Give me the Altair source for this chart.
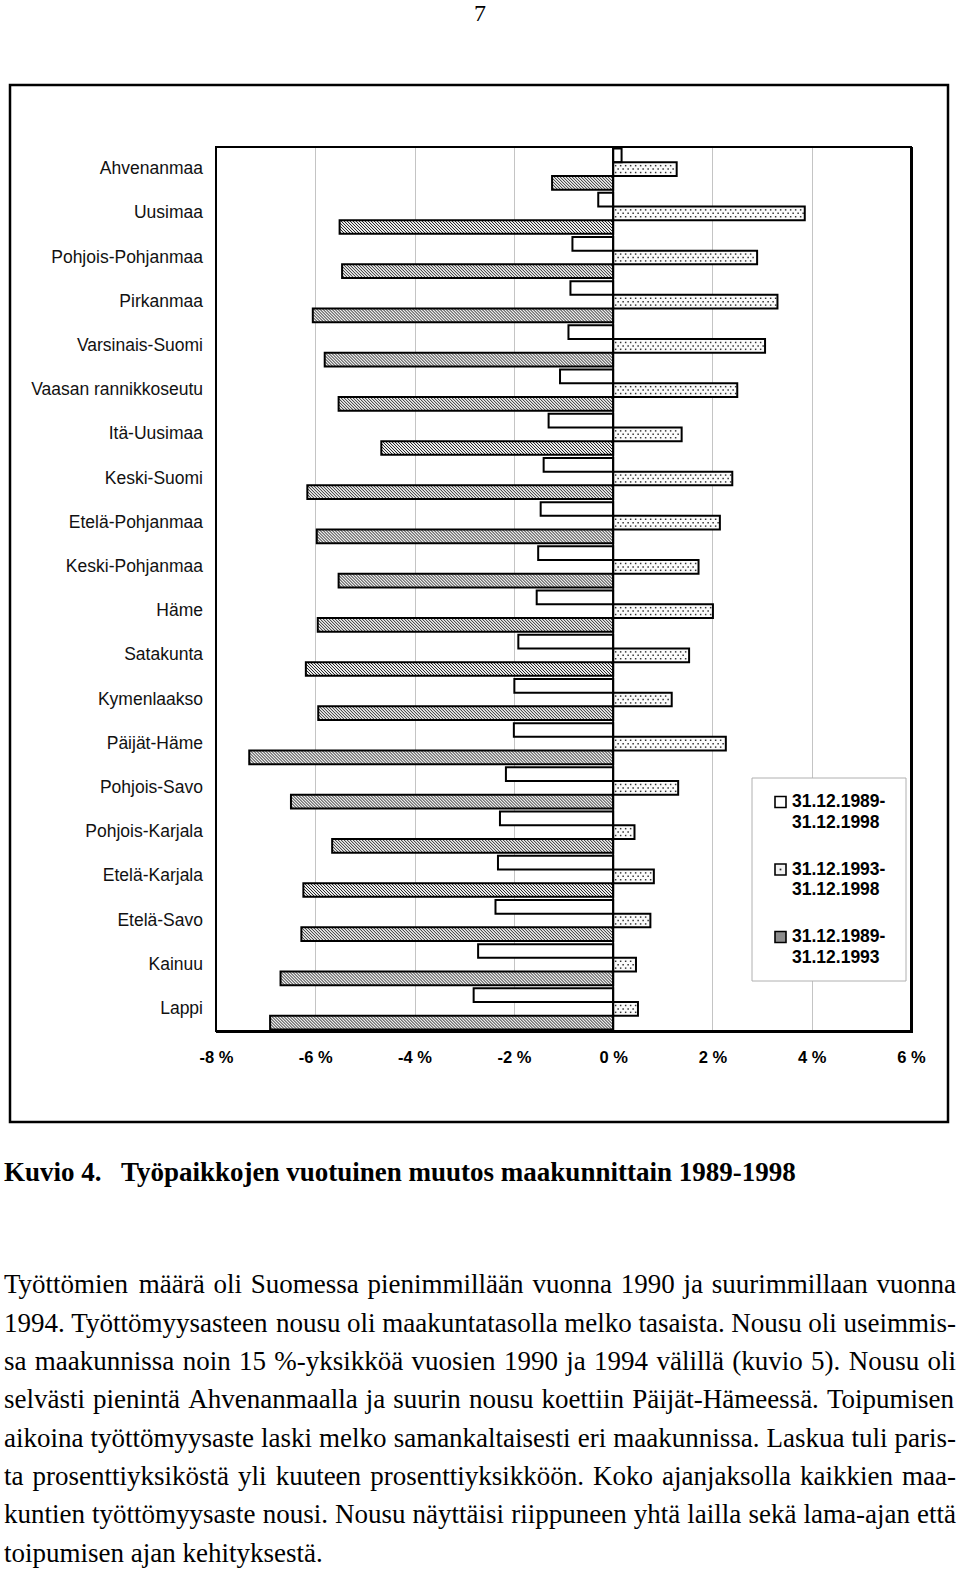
import altair as alt
import pandas as pd
import numpy as np

# ---------------- data ----------------
regions = [
    "Ahvenanmaa", "Uusimaa", "Pohjois-Pohjanmaa", "Pirkanmaa", "Varsinais-Suomi",
    "Vaasan rannikkoseutu", "Itä-Uusimaa", "Keski-Suomi", "Etelä-Pohjanmaa",
    "Keski-Pohjanmaa", "Häme", "Satakunta", "Kymenlaakso", "Päijät-Häme",
    "Pohjois-Savo", "Pohjois-Karjala", "Etelä-Karjala", "Etelä-Savo", "Kainuu", "Lappi",
]
change_1989_1998 = [0.17, -0.30, -0.82, -0.86, -0.90, -1.07, -1.30, -1.40, -1.46, -1.51,
                    -1.54, -1.91, -1.99, -2.00, -2.16, -2.28, -2.32, -2.37, -2.72, -2.81]
change_1993_1998 = [1.28, 3.86, 2.90, 3.31, 3.06, 2.50, 1.38, 2.40, 2.15, 1.72,
                    2.01, 1.53, 1.18, 2.27, 1.31, 0.43, 0.82, 0.75, 0.46, 0.50]
change_1989_1993 = [-1.23, -5.51, -5.46, -6.05, -5.81, -5.53, -4.67, -6.16, -5.97, -5.53,
                    -5.95, -6.19, -5.94, -7.33, -6.49, -5.66, -6.24, -6.28, -6.70, -6.91]
series_names = ["31.12.1989-31.12.1998", "31.12.1993-31.12.1998", "31.12.1989-31.12.1993"]
legend_lines = [("31.12.1989-", "31.12.1998"), ("31.12.1993-", "31.12.1998"), ("31.12.1989-", "31.12.1993")]
x_ticks = [-8, -6, -4, -2, 0, 2, 4, 6]

page_number = "7"
caption_label = "Kuvio 4."
caption_title = "Työpaikkojen vuotuinen muutos maakunnittain 1989-1998"
body_lines = [
    "Työttömien määrä oli Suomessa pienimmillään vuonna 1990 ja suurimmillaan vuonna",
    "1994. Työttömyysasteen nousu oli maakuntatasolla melko tasaista. Nousu oli useimmis-",
    "sa maakunnissa noin 15 %-yksikköä vuosien 1990 ja 1994 välillä (kuvio 5). Nousu oli",
    "selvästi pienintä Ahvenanmaalla ja suurin nousu koettiin Päijät-Hämeessä. Toipumisen",
    "aikoina työttömyysaste laski melko samankaltaisesti eri maakunnissa. Laskua tuli paris-",
    "ta prosenttiyksiköstä yli kuuteen prosenttiyksikköön. Koko ajanjaksolla kaikkien maa-",
    "kuntien työttömyysaste nousi. Nousu näyttäisi riippuneen yhtä lailla sekä lama-ajan että",
    "toipumisen ajan kehityksestä.",
]

# ---------------- layout ----------------
W, H = 695, 884
PAD_L, PAD_T = 216, 147
X_MIN, X_MAX = -8, 6
GAP = 0.23
PITCH = 3 + GAP
TOT = len(regions) * PITCH
PX_PER_X = W / (X_MAX - X_MIN)
PX_PER_Y = H / TOT

values_by_series = [change_1989_1998, change_1993_1998, change_1989_1993]
rows = []
for g, name in enumerate(regions):
    top0 = g * PITCH + GAP / 2
    for s, sname in enumerate(series_names):
        rows.append(dict(region=name, series=sname, value=values_by_series[s][g],
                         y0=top0 + s, y1=top0 + s + 1, zero=0.0))
bars = pd.DataFrame(rows)

labels = pd.DataFrame(dict(region=regions,
                           yc=[g * PITCH + GAP / 2 + 1.5 for g in range(len(regions))]))

# hatch lines for 1989-1993 bars (derived from the values)
K = PX_PER_Y / PX_PER_X
HSTEP = 3.0 / PX_PER_X
hatch = []
for _, r in bars[bars.series == series_names[2]].iterrows():
    v, top = r.value, r.y0
    lo, hi = min(v, 0.0), max(v, 0.0)
    start = np.floor((lo - K) / HSTEP) * HSTEP
    for a in np.arange(start, hi, HSTEP):
        u0 = max(0.0, (lo - a) / K)
        u1 = min(1.0, (hi - a) / K)
        if u1 - u0 > 1e-3:
            hatch.append(dict(xa=a + K * u0, ya=top + u0, xb=a + K * u1, yb=top + u1))
hatch = pd.DataFrame(hatch)

# dots for 1993-1998 bars
DSTEP = 5.0 / PX_PER_X
MARG = 2.5 / PX_PER_X
dots = []
for _, r in bars[bars.series == series_names[1]].iterrows():
    v, top = r.value, r.y0
    lo, hi = min(v, 0.0), max(v, 0.0)
    for i, u in enumerate([0.25, 0.5, 0.75]):
        off = (0.5 * DSTEP) if i % 2 else 0.0
        for xx in np.arange(lo + MARG + off, hi - MARG * 0.6, DSTEP):
            dots.append(dict(xd=xx, yd=top + u))
dots = pd.DataFrame(dots)

# ---------------- scales ----------------
xscale = alt.Scale(domain=[X_MIN, X_MAX], nice=False, zero=False)
yscale = alt.Scale(domain=[0, TOT], reverse=True, nice=False, zero=False)
xaxis = alt.Axis(values=x_ticks, labelExpr="datum.value + ' %'", labelFont="Liberation Sans",
                 labelFontWeight="bold", labelFontSize=16.5, labelColor="black",
                 ticks=False, domain=False, grid=True, gridColor="#c4c4c4", gridWidth=1,
                 labelPadding=18, title=None, labelFlush=False)


def X(f):
    return alt.X(f, type="quantitative", scale=xscale, axis=xaxis)


def Y(f):
    return alt.Y(f, type="quantitative", scale=yscale, axis=None)


fill_scale = alt.Scale(domain=series_names, range=["#ffffff", "#fbfbfb", "#ececec"])

bar_fill = alt.Chart(bars).mark_rect(strokeWidth=0).encode(
    x=X("value"), x2="zero", y=Y("y0"), y2="y1",
    fill=alt.Fill("series:N", scale=fill_scale, legend=None),
)
hatch_layer = alt.Chart(hatch).mark_rule(color="#2a2a2a", strokeWidth=1).encode(
    x=X("xa"), x2="xb", y=Y("ya"), y2="yb")
dot_layer = alt.Chart(dots).mark_square(size=2.2, color="#333333", opacity=1).encode(
    x=X("xd"), y=Y("yd"))
bar_outline = alt.Chart(bars).mark_rect(fillOpacity=0, stroke="black", strokeWidth=2).encode(
    x=X("value"), x2="zero", y=Y("y0"), y2="y1")

one = pd.DataFrame({"zero": [0.0]})
zero_rule = alt.Chart(one).mark_rule(color="black", strokeWidth=2).encode(
    x=X("zero"), y=alt.value(0), y2=alt.value(H))

# plot frame drawn on top of the grid (right and bottom a bit heavier)
frame = alt.Chart(one).mark_rect(fillOpacity=0, stroke="black", strokeWidth=2).encode(
    x=alt.value(0), x2=alt.value(W), y=alt.value(0), y2=alt.value(H))
frame_r = alt.Chart(one).mark_rule(color="black", strokeWidth=3).encode(
    x=alt.value(W + 0.5), y=alt.value(0), y2=alt.value(H + 1.5))
frame_b = alt.Chart(one).mark_rule(color="black", strokeWidth=3).encode(
    x=alt.value(0), x2=alt.value(W + 2), y=alt.value(H + 0.5))

label_layer = alt.Chart(labels).mark_text(
    align="right", baseline="middle", font="Liberation Sans", fontSize=17.5, color="#111111"
).encode(x=alt.value(-13), y=Y("yc"), text="region:N")

# legend (drawn inside the plot)
leg_layers = [
    alt.Chart(one).mark_rect(fill="white", stroke="#b0b0b0", strokeWidth=1).encode(
        x=alt.value(536), x2=alt.value(690), y=alt.value(631), y2=alt.value(834))
]
sym_fill = ["#ffffff", "#f2f2f2", "#8c8c8c"]
for i, (l1, l2) in enumerate(legend_lines):
    cy = 655 + i * 67.5
    leg_layers.append(alt.Chart(one).mark_rect(fill=sym_fill[i], stroke="black", strokeWidth=1.6).encode(
        x=alt.value(559), x2=alt.value(570), y=alt.value(cy - 5.5), y2=alt.value(cy + 5.5)))
    if i == 1:
        leg_layers.append(alt.Chart(one).mark_square(size=3, color="#222", opacity=1).encode(
            x=alt.value(564.5), y=alt.value(cy)))
    for j, t in enumerate((l1, l2)):
        leg_layers.append(alt.Chart(one).mark_text(
            align="left", baseline="middle", font="Liberation Sans", fontWeight="bold",
            fontSize=17.5, color="black", text=t).encode(
            x=alt.value(576), y=alt.value(cy + j * 20.5)))

# outer frame
outer = alt.Chart(one).mark_rect(fillOpacity=0, stroke="black", strokeWidth=2.5).encode(
    x=alt.value(10 - PAD_L), x2=alt.value(948 - PAD_L), y=alt.value(85 - PAD_T), y2=alt.value(1122 - PAD_T))

# page number & caption
page_layer = alt.Chart(one).mark_text(
    align="center", baseline="alphabetic", font="Liberation Serif", fontSize=24, color="black",
    text=page_number).encode(x=alt.value(480 - PAD_L), y=alt.value(21 - PAD_T))
cap1 = alt.Chart(one).mark_text(
    align="left", baseline="alphabetic", font="Liberation Serif", fontWeight="bold", fontSize=27,
    color="black", text=caption_label).encode(x=alt.value(4 - PAD_L), y=alt.value(1181 - PAD_T))
cap2 = alt.Chart(one).mark_text(
    align="left", baseline="alphabetic", font="Liberation Serif", fontWeight="bold", fontSize=27,
    color="black", text=caption_title).encode(x=alt.value(121 - PAD_L), y=alt.value(1181 - PAD_T))

# justified body text (Times metrics)
TW = {' ': 250, 'a': 444, 'b': 500, 'c': 444, 'd': 500, 'e': 444, 'f': 333, 'g': 500, 'h': 500,
      'i': 278, 'j': 278, 'k': 500, 'l': 278, 'm': 778, 'n': 500, 'o': 500, 'p': 500, 'q': 500,
      'r': 333, 's': 389, 't': 278, 'u': 500, 'v': 500, 'w': 722, 'x': 500, 'y': 500, 'z': 444,
      'ä': 444, 'ö': 500, 'å': 444, 'A': 722, 'H': 722, 'K': 722, 'L': 611, 'N': 722, 'P': 556,
      'S': 556, 'T': 611, '.': 250, ',': 250, '-': 333, '%': 833, '(': 333, ')': 333}


def wwidth(w):
    return sum(TW.get(c, 500) for c in w) / 1000.0


LEFT, RIGHT = 4, 956
line_w = RIGHT - LEFT
fs = 27.0
for ln in body_lines[:-1]:
    ws = ln.split(" ")
    need = sum(wwidth(w) for w in ws) + 0.18 * (len(ws) - 1)
    fs = min(fs, line_w / need)
body_y = [1293, 1332, 1370, 1408, 1447, 1485, 1523, 1562]
words = []
for li, ln in enumerate(body_lines):
    ws = ln.split(" ")
    widths = [wwidth(w) * fs for w in ws]
    if li < len(body_lines) - 1 and len(ws) > 1:
        gap = (line_w - sum(widths)) / (len(ws) - 1)
    else:
        gap = 0.25 * fs
    xcur = LEFT
    for w, wd in zip(ws, widths):
        words.append(dict(word=w, px=xcur - PAD_L, py=body_y[li] - PAD_T))
        xcur += wd + gap
words = pd.DataFrame(words)
body_layer = alt.Chart(words).mark_text(
    align="left", baseline="alphabetic", font="Liberation Serif", fontSize=fs, color="black"
).encode(x=alt.X("px:Q", scale=None, axis=None), y=alt.Y("py:Q", scale=None, axis=None),
         text="word:N")

chart = alt.layer(
    bar_fill, hatch_layer, dot_layer, bar_outline, zero_rule, frame, frame_r, frame_b,
    label_layer, *leg_layers, outer, page_layer, cap1, cap2, body_layer,
).properties(
    width=W, height=H,
    autosize=alt.AutoSizeParams(type="none"),
    padding={"left": PAD_L, "top": PAD_T, "right": 960 - PAD_L - W, "bottom": 1570 - PAD_T - H},
    background="white",
).configure_view(stroke="black", strokeWidth=2)

chart.save("out.html", embed_options={"renderer": "svg", "actions": False})
